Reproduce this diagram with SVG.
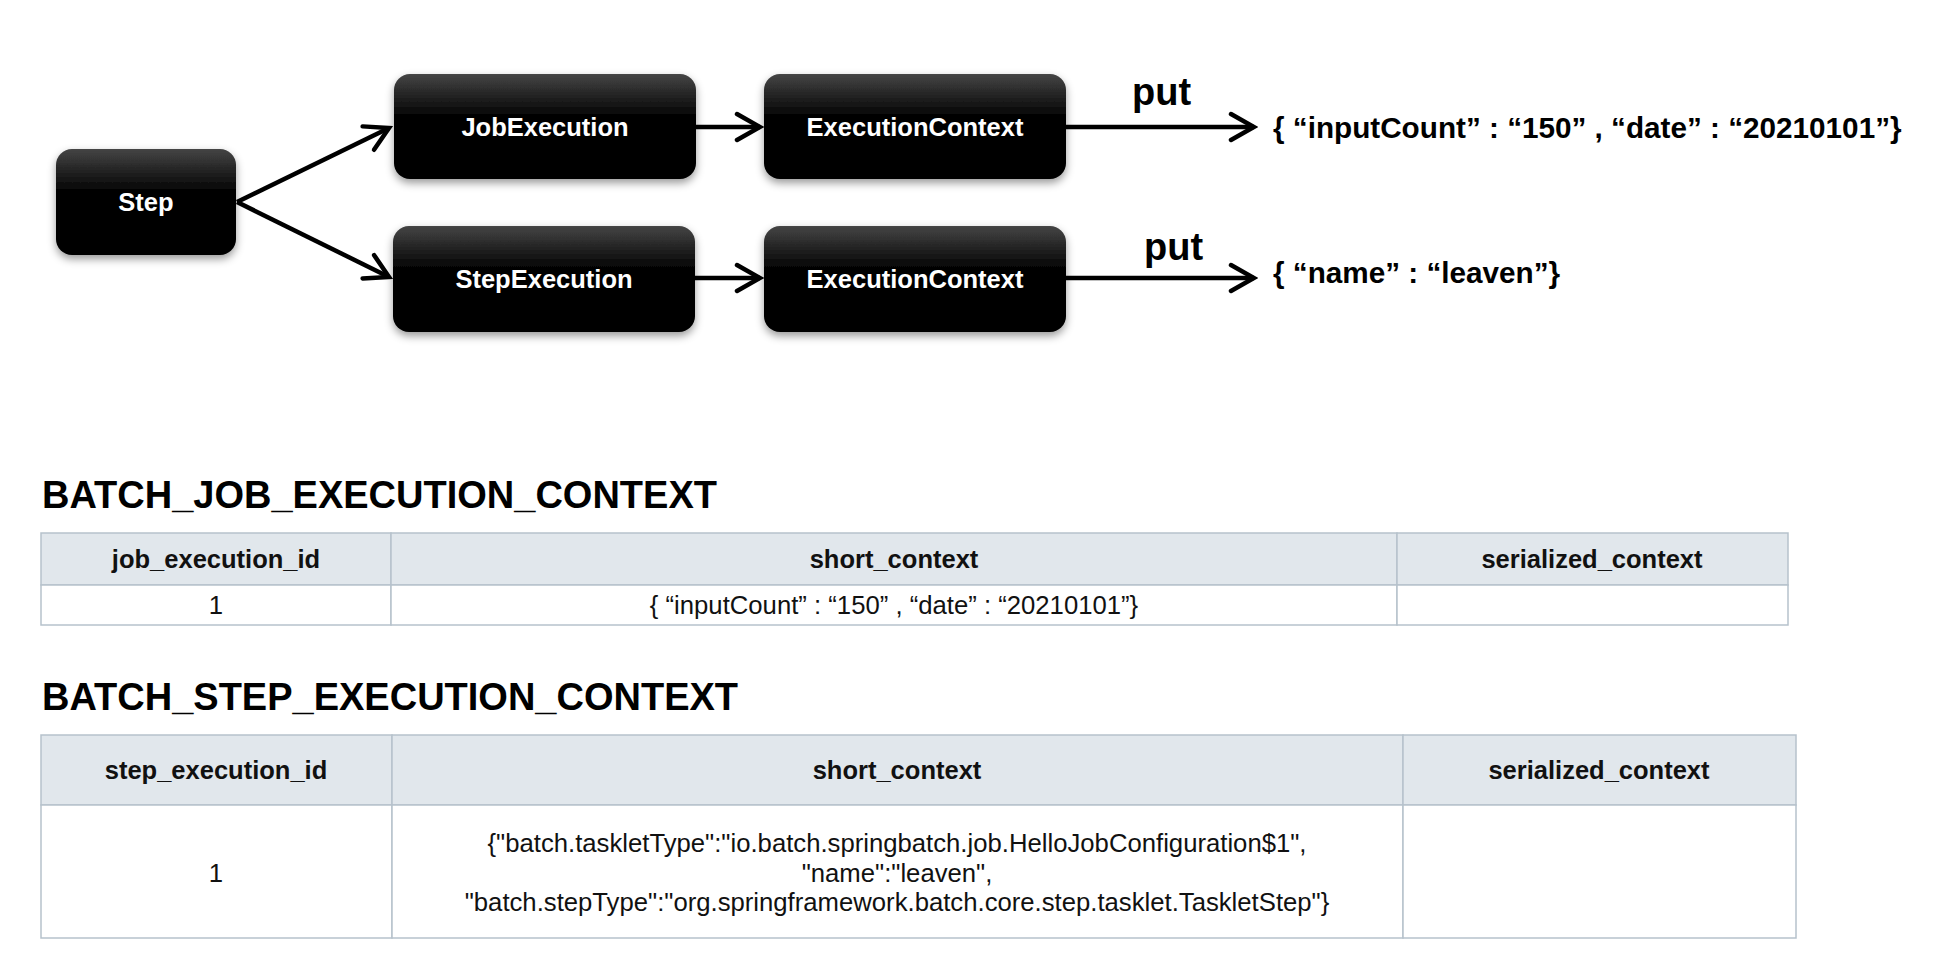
<svg xmlns="http://www.w3.org/2000/svg" width="1938" height="972" viewBox="0 0 1938 972">
<style>
.lbl{font-family:"Liberation Sans",Arial,Helvetica,sans-serif;font-weight:bold;font-size:25.5px;fill:#fff;text-anchor:middle}
.put{font-family:"Liberation Sans",Arial,Helvetica,sans-serif;font-weight:bold;font-size:38px;fill:#000}
.json{font-family:"Liberation Sans",Arial,Helvetica,sans-serif;font-weight:bold;font-size:29.7px;fill:#000}
.title{font-family:"Liberation Sans",Arial,Helvetica,sans-serif;font-weight:bold;font-size:38px;fill:#000}
.th{font-family:"Liberation Sans",Arial,Helvetica,sans-serif;font-weight:bold;font-size:25.5px;fill:#111;text-anchor:middle}
.td{font-family:"Liberation Sans",Arial,Helvetica,sans-serif;font-size:25.7px;fill:#111;text-anchor:middle}
.box{fill:url(#bg);filter:url(#sh)}
.conn{stroke:#000;stroke-width:4.5;fill:none;marker-end:url(#arr)}
.hdr{fill:#e1e7ec;stroke:#b6c2cc;stroke-width:1.5}
.cell{fill:#fff;stroke:#b6c2cc;stroke-width:1.5}
</style>
<defs>
<linearGradient id="bg" x1="0" y1="0" x2="0" y2="1">
<stop offset="0" stop-color="#454545"/>
<stop offset="0.42" stop-color="#000"/>
<stop offset="1" stop-color="#000"/>
</linearGradient>
<filter id="sh" x="-10%" y="-10%" width="120%" height="130%">
<feDropShadow dx="0" dy="4" stdDeviation="4" flood-color="#000" flood-opacity="0.4"/>
</filter>
<marker id="arr" markerUnits="userSpaceOnUse" viewBox="-28 -16 32 32" markerWidth="32" markerHeight="32" refX="0" refY="0" orient="auto">
<path d="M-23,-13 L0,0 L-23,13" fill="none" stroke="#000" stroke-width="4.5" stroke-linejoin="miter" stroke-linecap="round"/>
</marker>
</defs>
<rect width="1938" height="972" fill="#fff"/>

<g id="connectors">
<line class="conn" x1="237" y1="202" x2="389" y2="128"/>
<line class="conn" x1="237" y1="202" x2="389" y2="277"/>
<line class="conn" x1="696" y1="127" x2="760" y2="127"/>
<line class="conn" x1="695" y1="278" x2="760" y2="278"/>
<line class="conn" x1="1066" y1="127" x2="1254" y2="127"/>
<line class="conn" x1="1066" y1="278" x2="1254" y2="278"/>
<text class="put" x="1132" y="105">put</text>
<text class="put" x="1144" y="260">put</text>
</g>

<g id="step">
<rect class="box" x="56" y="149" width="180" height="106" rx="16"/>
<text class="lbl" x="146" y="211">Step</text>
</g>
<g id="jobExecution">
<rect class="box" x="394" y="74" width="302" height="105" rx="16"/>
<text class="lbl" x="545" y="136">JobExecution</text>
</g>
<g id="jobExecutionContext">
<rect class="box" x="764" y="74" width="302" height="105" rx="16"/>
<text class="lbl" x="915" y="136">ExecutionContext</text>
</g>
<g id="stepExecution">
<rect class="box" x="393" y="226" width="302" height="106" rx="16"/>
<text class="lbl" x="544" y="288">StepExecution</text>
</g>
<g id="stepExecutionContext">
<rect class="box" x="764" y="226" width="302" height="106" rx="16"/>
<text class="lbl" x="915" y="288">ExecutionContext</text>
</g>
<g id="jobContextValue">
<text class="json" x="1273" y="138">{ “inputCount” : “150” , “date” : “20210101”}</text>
</g>
<g id="stepContextValue">
<text class="json" x="1273" y="283">{ “name” : “leaven”}</text>
</g>

<g id="jobTable">
<text class="title" x="42" y="508">BATCH_JOB_EXECUTION_CONTEXT</text>
<rect class="hdr" x="41" y="533" width="350" height="52"/>
<rect class="hdr" x="391" y="533" width="1006" height="52"/>
<rect class="hdr" x="1397" y="533" width="391" height="52"/>
<rect class="cell" x="41" y="585" width="350" height="40"/>
<rect class="cell" x="391" y="585" width="1006" height="40"/>
<rect class="cell" x="1397" y="585" width="391" height="40"/>
<text class="th" x="216" y="568">job_execution_id</text>
<text class="th" x="894" y="568">short_context</text>
<text class="th" x="1592" y="568">serialized_context</text>
<text class="td" x="216" y="614">1</text>
<text class="td" x="894" y="614">{ “inputCount” : “150” , “date” : “20210101”}</text>
</g>

<g id="stepTable">
<text class="title" x="42" y="710">BATCH_STEP_EXECUTION_CONTEXT</text>
<rect class="hdr" x="41" y="735" width="351" height="70"/>
<rect class="hdr" x="392" y="735" width="1011" height="70"/>
<rect class="hdr" x="1403" y="735" width="393" height="70"/>
<rect class="cell" x="41" y="805" width="351" height="133"/>
<rect class="cell" x="392" y="805" width="1011" height="133"/>
<rect class="cell" x="1403" y="805" width="393" height="133"/>
<text class="th" x="216" y="779">step_execution_id</text>
<text class="th" x="897" y="779">short_context</text>
<text class="th" x="1599" y="779">serialized_context</text>
<text class="td" x="216" y="882">1</text>
<text class="td" x="897" y="852">{"batch.taskletType":"io.batch.springbatch.job.HelloJobConfiguration$1",</text>
<text class="td" x="897" y="882">"name":"leaven",</text>
<text class="td" x="897" y="911">"batch.stepType":"org.springframework.batch.core.step.tasklet.TaskletStep"}</text>
</g>
</svg>
